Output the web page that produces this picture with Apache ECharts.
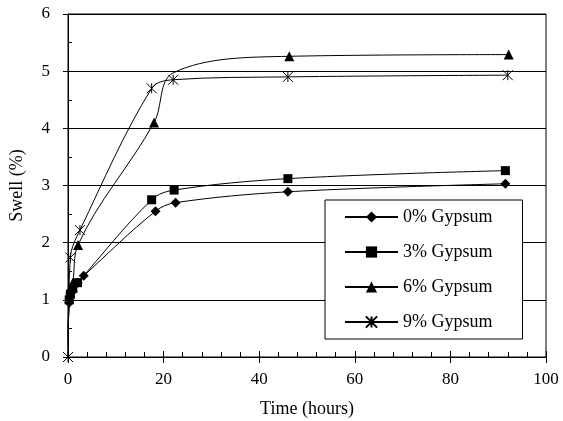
<!DOCTYPE html>
<html><head><meta charset="utf-8">
<script src="https://cdn.jsdelivr.net/npm/echarts@6/dist/echarts.min.js"></script>
<style>html,body{margin:0;padding:0;background:#fff}#c{width:563px;height:421px}</style>
</head><body><div id="c"></div>
<script>
const seriesNames = ['0% Gypsum', '3% Gypsum', '6% Gypsum', '9% Gypsum'];
const gyp0 = [[0,0.2],[0.25,0.95],[0.5,1.05],[1,1.15],[2,1.3],[3.3,1.42],[18.3,2.55],[22.5,2.7],[46,2.89],[91.5,3.03]];
const gyp3 = [[0,0.35],[0.25,1.0],[0.5,1.1],[1,1.2],[2,1.3],[17.5,2.75],[22.2,2.92],[46,3.12],[91.5,3.26]];
const gyp6 = [[0,0.5],[0.5,1.2],[1,1.3],[2.1,1.96],[18,4.1],[22,4.97],[46.3,5.26],[92.2,5.29]];
const gyp9 = [[0,0],[0.5,1.74],[2.5,2.22],[17.5,4.7],[22,4.85],[46,4.9],[92,4.93]];
const xTicks = {min:0, max:100, interval:20};
const yTicks = {min:0, max:6, interval:1};

const font = 'Liberation Serif';
const asterisk = 'path://M0,0L10,10M10,0L0,10M5,0L5,10';
function mk(name, data, symbol, size, hidden){
  return {
    name, type:'line', smooth:0.35, symbol, symbolSize:size,
    data: data.map((p,i)=> hidden.includes(i) ? {value:p, symbolSize:0} : p),
    showAllSymbol:true,
    lineStyle:{color:'#000', width:1},
    itemStyle:{color:'#000', borderColor:'#000', borderWidth: symbol===asterisk?1:0},
    z: 3
  };
}
function hiddenAxis(showMajorInside){
  return {show:true, axisLine:{show:false}, axisLabel:{show:false}, splitLine:{show:false},
    axisTick:{show:showMajorInside, inside:true, length:6, lineStyle:{color:'#000'}}};
}
const chart = echarts.init(document.getElementById('c'), null, {renderer:'canvas'});
chart.setOption({
  animation:false,
  backgroundColor:'#fff',
  grid:{left:68, right:17, top:14, bottom:64, show:true, borderColor:'#000', borderWidth:1,
    backgroundColor:'transparent', containLabel:false, outerBoundsMode:'none'},
  xAxis:[{type:'value', min:xTicks.min, max:xTicks.max, interval:xTicks.interval,
    name:'Time (hours)', nameLocation:'middle', nameGap:43,
    nameTextStyle:{fontFamily:font, fontSize:18, color:'#000'},
    axisLine:{lineStyle:{color:'#000', width:1}},
    axisTick:{length:6, lineStyle:{color:'#000'}},
    axisLabel:{fontFamily:font, fontSize:17, color:'#000', margin:14},
    splitLine:{show:false}},
    Object.assign({type:'value', min:xTicks.min, max:xTicks.max, interval:xTicks.interval, position:'bottom',
      minorTick:{show:true, splitNumber:5, length:5, lineStyle:{color:'#000'}}}, hiddenAxis(true))],
  yAxis:[{type:'value', min:yTicks.min, max:yTicks.max, interval:yTicks.interval,
    name:'Swell (%)', nameLocation:'middle', nameGap:42, nameRotate:90,
    nameTextStyle:{fontFamily:font, fontSize:18, color:'#000'},
    axisLine:{show:true, lineStyle:{color:'#000', width:1}},
    axisTick:{show:true, length:5, lineStyle:{color:'#000'}},
    axisLabel:{fontFamily:font, fontSize:17, color:'#000', margin:18},
    splitLine:{show:true, lineStyle:{color:'#000', width:1}}},
    Object.assign({type:'value', min:yTicks.min, max:yTicks.max, interval:yTicks.interval, position:'left',
      minorTick:{show:true, splitNumber:2, length:4, lineStyle:{color:'#000'}}}, hiddenAxis(false))],
  legend:{orient:'vertical', left:325, top:200, width:200,
    backgroundColor:'#fff', borderColor:'#000', borderWidth:1,
    padding:[8, 30, 8, 19], itemGap:17, itemWidth:53, itemHeight:14,
    textStyle:{fontFamily:font, fontSize:18, color:'#000'},
    data:seriesNames},
  series:[
    mk(seriesNames[0], gyp0, 'diamond', 10, [0]),
    mk(seriesNames[1], gyp3, 'rect', 9, [0]),
    mk(seriesNames[2], gyp6, 'triangle', 10, [0,5]),
    mk(seriesNames[3], gyp9, asterisk, 10, [])
  ]
});
</script></body></html>
